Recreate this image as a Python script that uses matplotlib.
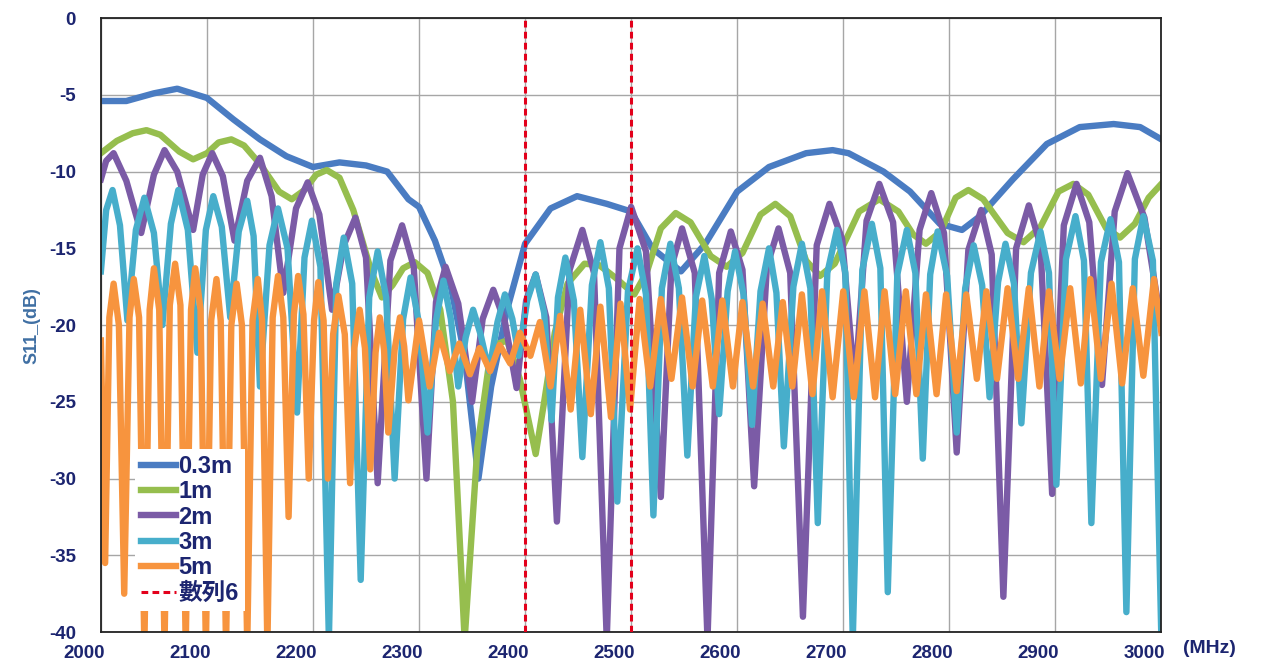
import matplotlib
matplotlib.use("Agg")
import matplotlib.pyplot as plt
from matplotlib.transforms import ScaledTranslation

plt.rcParams["font.family"] = ["Liberation Sans", "Noto Sans CJK TC"]
plt.rcParams["axes.unicode_minus"] = False

# -----------------------------
# Data
# -----------------------------
f_03m = [2000, 2024, 2050, 2072, 2100, 2125, 2150, 2175, 2200, 2225, 2250, 2270,
         2290, 2300, 2315, 2330, 2343, 2356, 2368, 2383, 2400, 2424, 2449, 2477,
         2500, 2520, 2547, 2570, 2600, 2630, 2665, 2690, 2705, 2738, 2763, 2791,
         2812, 2829, 2860, 2892, 2923, 2955, 2980, 3000]
s_03m = [-5.4, -5.4, -4.9, -4.6, -5.2, -6.6, -7.9, -9.0, -9.7, -9.4, -9.6, -10.0,
         -11.8, -12.3, -14.5, -17.5, -22.0, -30.0, -24.0, -19.0, -14.7, -12.4, -11.6, -12.1,
         -12.6, -15.0, -16.5, -14.7, -11.3, -9.7, -8.8, -8.6, -8.8, -10.0, -11.3, -13.4,
         -13.8, -12.9, -10.5, -8.2, -7.1, -6.9, -7.1, -7.9]

f_1m = [2000, 2015, 2030, 2043, 2056, 2074, 2087, 2100, 2111, 2123, 2135, 2150,
        2168, 2180, 2192, 2203, 2213, 2225, 2238, 2255, 2265, 2275, 2285, 2296,
        2308, 2320, 2332, 2343, 2355, 2365, 2375, 2383, 2395, 2410, 2418, 2428,
        2440, 2456, 2470, 2485, 2503, 2515, 2528, 2542, 2556, 2575, 2590, 2605,
        2622, 2636, 2650, 2665, 2678, 2692, 2715, 2734, 2752, 2766, 2778, 2792,
        2806, 2818, 2832, 2855, 2870, 2886, 2903, 2917, 2931, 2948, 2961, 2975,
        2988, 3000]
s_1m = [-8.8, -8.0, -7.5, -7.3, -7.6, -8.7, -9.2, -8.8, -8.1, -7.9, -8.3, -9.5,
        -11.3, -11.8, -11.2, -10.2, -9.9, -10.4, -12.5, -16.5, -18.2, -17.4, -16.3, -15.9,
        -16.6, -19.0, -25.0, -40.5, -28.0, -23.0, -21.2, -21.0, -23.5, -28.4, -25.0, -20.5,
        -17.3, -16.0, -16.1, -16.9, -18.0, -16.5, -13.7, -12.7, -13.3, -15.5, -16.2, -15.3,
        -12.8, -12.1, -12.9, -15.8, -16.8, -16.0, -12.6, -11.8, -12.6, -14.1, -14.7, -13.9,
        -11.7, -11.2, -11.8, -14.0, -14.6, -13.6, -11.3, -10.8, -11.5, -13.7, -14.3, -13.4,
        -11.7, -10.8]

f_2m = [2000, 2005, 2012, 2024, 2038, 2050, 2060, 2072, 2087, 2096, 2105, 2115,
        2126, 2138, 2150, 2161, 2172, 2184, 2195, 2206, 2218, 2229, 2240, 2250,
        2261, 2273, 2284, 2295, 2307, 2316, 2325, 2337, 2350, 2360, 2370, 2381,
        2392, 2401, 2410, 2420, 2430, 2442, 2454, 2465, 2477, 2489, 2500, 2514,
        2528, 2538, 2548, 2560, 2572, 2583, 2594, 2605, 2616, 2628, 2639, 2650,
        2662, 2675, 2687, 2699, 2711, 2722, 2734, 2747, 2760, 2772, 2783, 2795,
        2807, 2818, 2830, 2840, 2851, 2863, 2875, 2886, 2897, 2908, 2920, 2932,
        2944, 2956, 2968, 2984, 3000]
s_2m = [-10.5, -9.3, -8.8, -10.6, -14.0, -10.2, -8.6, -10.0, -13.8, -10.2, -8.8, -10.3,
        -14.5, -10.6, -9.1, -11.6, -17.9, -12.4, -10.7, -12.8, -19.0, -14.8, -13.0, -15.6,
        -30.3, -15.8, -13.5, -16.2, -30.0, -18.5, -16.2, -18.6, -25.0, -19.6, -17.7, -19.8,
        -24.1, -18.4, -16.7, -19.5, -32.8, -16.4, -13.8, -16.6, -40.5, -15.0, -12.3, -15.2,
        -31.2, -16.2, -13.7, -16.6, -40.5, -16.6, -13.9, -16.4, -30.5, -16.2, -13.7, -16.6,
        -39.0, -14.8, -12.1, -14.4, -24.0, -13.2, -10.8, -13.3, -25.0, -13.8, -11.4, -14.0,
        -28.3, -15.1, -12.5, -15.4, -37.7, -15.0, -12.2, -14.8, -31.0, -13.5, -10.8, -13.3,
        -23.9, -12.6, -10.1, -13.0, -20.0]

f_3m = [2000, 2005, 2011, 2018, 2025, 2033, 2041, 2050, 2058, 2066, 2073, 2082,
        2091, 2099, 2106, 2114, 2122, 2130, 2138, 2144, 2150, 2159, 2167, 2176,
        2185, 2192, 2199, 2207, 2215, 2222, 2229, 2237, 2245, 2253, 2261, 2269,
        2277, 2285, 2292, 2300, 2308, 2316, 2323, 2330, 2337, 2344, 2351, 2358,
        2366, 2374, 2381, 2388, 2394, 2402, 2410, 2418, 2425, 2431, 2438, 2446,
        2454, 2463, 2471, 2479, 2487, 2497, 2506, 2514, 2521, 2529, 2537, 2545,
        2553, 2561, 2569, 2576, 2583, 2591, 2598, 2606, 2614, 2622, 2630, 2637,
        2644, 2653, 2661, 2669, 2676, 2685, 2694, 2702, 2709, 2718, 2727, 2735,
        2742, 2751, 2760, 2768, 2775, 2782, 2789, 2798, 2807, 2815, 2823, 2831,
        2838, 2846, 2853, 2861, 2868, 2877, 2886, 2894, 2901, 2910, 2919, 2927,
        2934, 2943, 2952, 2960, 2967, 2975, 2983, 2992, 3000]
s_3m = [-16.5, -12.5, -11.2, -13.5, -19.7, -13.8, -11.7, -14.0, -20.0, -13.4, -11.2, -13.8,
        -21.8, -13.8, -11.6, -13.6, -19.5, -13.9, -11.9, -14.2, -24.0, -14.8, -12.4, -15.0,
        -25.7, -15.6, -13.2, -16.2, -40.5, -17.3, -14.3, -17.3, -36.6, -18.2, -15.2, -18.2,
        -30.0, -19.6, -16.9, -19.9, -27.0, -19.7, -17.1, -19.6, -24.0, -20.8, -19.0, -20.6,
        -23.0, -19.8, -18.0, -19.6, -22.0, -18.4, -16.7, -19.2, -26.2, -18.2, -15.6, -18.4,
        -28.6, -17.4, -14.6, -17.6, -31.5, -17.8, -15.0, -18.0, -32.4, -17.6, -14.7, -17.6,
        -28.5, -18.2, -15.5, -18.3, -25.8, -17.8, -15.2, -18.0, -26.5, -17.8, -15.0, -17.9,
        -27.9, -17.5, -14.7, -17.6, -32.9, -16.6, -13.8, -16.6, -40.5, -16.4, -13.4, -16.3,
        -37.4, -16.7, -13.8, -16.6, -28.7, -16.7, -13.9, -16.8, -27.0, -17.6, -14.8, -17.4,
        -24.7, -17.2, -14.7, -17.3, -26.4, -16.6, -13.9, -16.6, -30.4, -15.7, -12.9, -15.8,
        -32.9, -15.9, -13.1, -15.9, -38.7, -15.7, -12.9, -15.8, -40.5]

f_5m = [2000, 2004, 2008, 2012, 2017, 2022, 2027, 2031, 2036, 2041, 2046, 2050,
        2055, 2060, 2065, 2070, 2075, 2080, 2085, 2089, 2094, 2099, 2104, 2109,
        2113, 2118, 2123, 2128, 2133, 2138, 2143, 2148, 2152, 2157, 2162, 2167,
        2172, 2177, 2182, 2186, 2191, 2196, 2201, 2205, 2210, 2214, 2219, 2224,
        2230, 2235, 2239, 2244, 2249, 2254, 2259, 2263, 2267, 2271, 2277, 2282,
        2286, 2290, 2300, 2310, 2319, 2329, 2338, 2348, 2357, 2367, 2376, 2386,
        2395, 2405, 2414, 2424, 2433, 2443, 2452, 2462, 2471, 2481, 2490, 2499,
        2508, 2518, 2528, 2538, 2548, 2558, 2567, 2577, 2586, 2596, 2605, 2615,
        2624, 2634, 2643, 2652, 2661, 2671, 2680, 2690, 2700, 2710, 2720, 2730,
        2739, 2749, 2759, 2769, 2778, 2788, 2797, 2807, 2816, 2826, 2835, 2845,
        2855, 2865, 2875, 2885, 2894, 2904, 2914, 2924, 2933, 2943, 2953, 2963,
        2973, 2983, 2993, 3000]
s_5m = [-21.0, -35.5, -19.5, -17.3, -20.0, -37.5, -19.5, -17.0, -19.5, -41.0, -19.0, -16.3,
        -19.0, -41.0, -18.7, -16.0, -18.7, -41.0, -19.0, -16.3, -19.0, -41.0, -19.7, -17.0,
        -19.7, -41.0, -20.0, -17.3, -20.0, -41.0, -19.7, -17.0, -19.7, -41.0, -19.5, -16.8,
        -19.5, -32.5, -19.3, -16.8, -19.3, -30.0, -19.7, -17.2, -19.7, -30.0, -20.6, -18.1,
        -20.6, -30.3, -21.5, -19.0, -21.5, -29.4, -21.8, -19.5, -21.6, -27.0, -21.6, -19.5,
        -21.4, -24.9, -19.7, -24.0, -20.5, -23.0, -21.2, -23.2, -21.5, -23.0, -21.3, -22.5,
        -20.5, -22.0, -19.8, -24.0, -19.4, -25.5, -19.0, -25.8, -18.8, -26.0, -18.6, -25.5,
        -18.3, -24.0, -18.3, -23.5, -18.2, -24.0, -18.4, -24.0, -18.4, -24.0, -18.5, -24.0,
        -18.6, -24.0, -18.5, -24.0, -18.0, -24.5, -17.8, -24.7, -17.8, -24.7, -17.8, -24.7,
        -17.8, -24.5, -17.8, -24.5, -18.0, -24.5, -18.0, -24.3, -18.0, -23.5, -17.8, -23.5,
        -17.6, -23.5, -17.6, -24.0, -17.8, -23.5, -17.6, -23.8, -17.0, -23.5, -17.3, -23.8,
        -17.6, -23.3, -17.0, -20.5]

band_edges = [2400, 2500]

xticks = list(range(2000, 3001, 100))
yticks = list(range(-40, 1, 5))

# -----------------------------
# Plot
# -----------------------------
navy = "#1C2570"
fig = plt.figure(figsize=(12.61, 6.71), dpi=100)
ax = fig.add_axes([0.080, 0.058, 0.841, 0.915])

lw = 4.6
ax.plot(f_03m, s_03m, color="#4A7CC2", lw=lw, label="0.3m", solid_joinstyle="round")
ax.plot(f_1m, s_1m, color="#96BE4E", lw=lw, label="1m", solid_joinstyle="round")
ax.plot(f_2m, s_2m, color="#7B5BA6", lw=lw, label="2m", solid_joinstyle="round")
ax.plot(f_3m, s_3m, color="#47AECB", lw=lw, label="3m", solid_joinstyle="round")
ax.plot(f_5m, s_5m, color="#F7943E", lw=lw, label="5m", solid_joinstyle="round")
ax.vlines(band_edges, -40, 0, colors="#E3001B", linestyles=(0, (2.2, 1.4)),
          lw=2.2, label="數列6", zorder=5)

ax.set_xlim(2000, 3000)
ax.set_ylim(-40, 0)
ax.set_xticks(xticks)
ax.set_yticks(yticks)
ax.grid(True, color="#A6A6A6", lw=1.0)
ax.set_axisbelow(True)
for sp in ax.spines.values():
    sp.set_color("#222222")
    sp.set_linewidth(1.3)

ax.tick_params(length=0, labelsize=13.5, labelcolor=navy)
ax.tick_params(axis="y", pad=18)
ax.tick_params(axis="x", pad=9)
for lab in ax.get_xticklabels() + ax.get_yticklabels():
    lab.set_fontweight("bold")
shift = ScaledTranslation(-0.17, 0, fig.dpi_scale_trans)
for lab in ax.get_xticklabels():
    lab.set_transform(lab.get_transform() + shift)

ax.set_ylabel("S11_(dB)", color="#3F6FA3", fontsize=13, fontweight="bold")
ax.yaxis.set_label_coords(-0.057, 0.5)
fig.text(0.959, 0.034, "(MHz)", color=navy, fontsize=14, fontweight="bold",
         ha="center", va="center")

leg = ax.legend(loc="upper left", bbox_to_anchor=(0.032, 0.298), fontsize=17,
                frameon=True, fancybox=False, framealpha=1, edgecolor="none",
                handlelength=1.5, handletextpad=0.1, labelspacing=0.1,
                borderpad=0.25, borderaxespad=0)
for t in leg.get_texts():
    t.set_color(navy)
    t.set_fontweight("bold")

plt.savefig("out.png", dpi=100)
